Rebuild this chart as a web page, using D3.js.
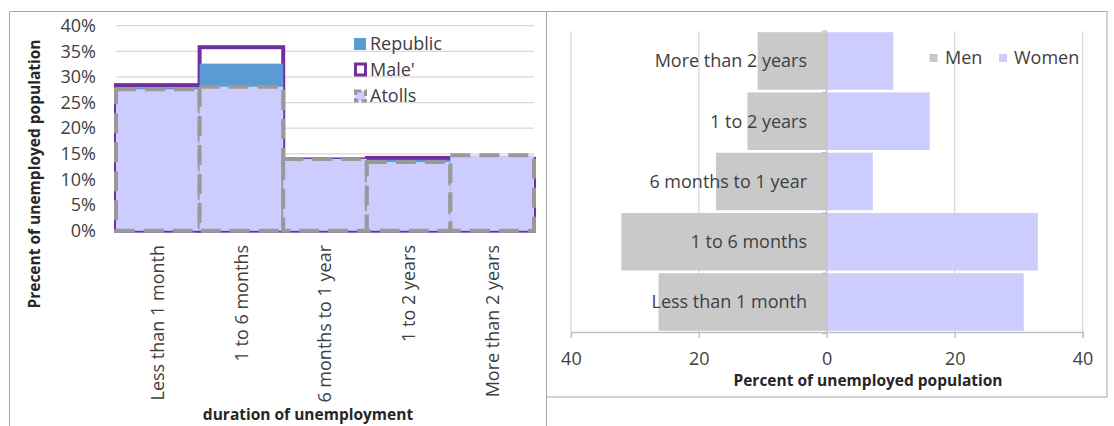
<!DOCTYPE html>
<html><head><meta charset="utf-8">
<script src="https://cdn.jsdelivr.net/npm/d3@7"></script>
<style>
body{margin:0;background:#fff;}
svg{display:block;font-family:'Open Sans', sans-serif;}
</style></head><body>
<svg id="c" width="1114" height="426"></svg>
<script>
// ---- Left chart data ----
const durations = ["Less than 1 month","1 to 6 months","6 months to 1 year","1 to 2 years","More than 2 years"];
const republic = [28.0, 32.6, 14.0, 13.8, 14.4];
const maleCity = [28.4, 35.8, 13.9, 14.2, 14.0];
const atolls   = [27.6, 28.1, 14.0, 13.4, 14.7];
const yTicksLeft = [0,5,10,15,20,25,30,35,40];
const leftSeries = ["Republic","Male'","Atolls"];

// ---- Right chart data (bottom to top) ----
const pyramidCats = ["Less than 1 month","1 to 6 months","6 months to 1 year","1 to 2 years","More than 2 years"];
const men   = [26.3, 32.1, 17.3, 12.4, 10.8];
const women = [30.8, 33.0, 7.2, 16.1, 10.4];
const xTicksRight = [-40,-20,0,20,40];
const rightSeries = ["Men","Women"];

const svg = d3.select("#c");
const txt = "#404040";
const FS = 18;
const TFS = 15.5;

// panel borders
svg.append("path").attr("d","M9.5,440V11.5H546.5V440").attr("fill","none").attr("stroke","#A6A6A6");
svg.append("rect").attr("x",546.5).attr("y",11.5).attr("width",560.5).attr("height",385.5).attr("fill","none").attr("stroke","#A6A6A6");

// ================= LEFT =================
const x = d3.scaleBand().domain(durations).range([116,534]).padding(0);
const y = d3.scaleLinear().domain([0,40]).range([230.7,25.7]);
const L = svg.append("g");

L.append("g").selectAll("line").data(yTicksLeft).join("line")
  .attr("x1",116).attr("x2",534).attr("y1",d=>y(d)).attr("y2",d=>y(d))
  .attr("stroke","#D9D9D9").attr("stroke-width",1.3);

const yAx = L.append("g").attr("transform","translate(116,0)")
  .call(d3.axisLeft(y).tickValues(yTicksLeft).tickFormat(d=>d+"%").tickSize(0).tickPadding(20));
yAx.attr("font-family",null).attr("font-size",null);
yAx.select(".domain").remove();
yAx.selectAll("text").attr("font-size",FS).attr("fill",txt);

const xAx = L.append("g").attr("transform","translate(0,245)")
  .call(d3.axisBottom(x).tickSize(0).tickPadding(0));
xAx.attr("font-family",null).attr("font-size",null);
xAx.select(".domain").remove();
xAx.selectAll("text").attr("font-size",FS).attr("fill",txt)
  .attr("transform","rotate(-90)").attr("text-anchor","end").attr("x",0).attr("y",0).attr("dy","0.35em");

// Male' (behind)
L.append("g").selectAll("rect").data(maleCity).join("rect")
  .attr("x",(d,i)=>x(durations[i])).attr("width",x.bandwidth())
  .attr("y",d=>y(d)).attr("height",d=>y(0)-y(d))
  .attr("fill","#fff").attr("stroke","#7030A0").attr("stroke-width",4);
// Republic
L.append("g").selectAll("rect").data(republic).join("rect")
  .attr("x",(d,i)=>x(durations[i])).attr("width",x.bandwidth())
  .attr("y",d=>y(d)).attr("height",d=>y(0)-y(d))
  .attr("fill","#5B9BD5");
// Atolls
L.append("g").selectAll("rect").data(atolls).join("rect")
  .attr("x",(d,i)=>x(durations[i])).attr("width",x.bandwidth())
  .attr("y",d=>y(d)).attr("height",d=>y(0)-y(d))
  .attr("fill","#CCCCFF").attr("stroke","#999999").attr("stroke-width",4)
  .attr("stroke-dasharray","20,9");

// legend left
const lg = L.append("g");
const lgY = [44,70,96];
lg.append("rect").attr("x",354).attr("y",lgY[0]-6).attr("width",12).attr("height",12).attr("fill","#5B9BD5");
lg.append("rect").attr("x",355.5).attr("y",lgY[1]-6).attr("width",10).attr("height",11).attr("fill","#fff").attr("stroke","#7030A0").attr("stroke-width",3);
lg.append("rect").attr("x",355.5).attr("y",lgY[2]-5).attr("width",10).attr("height",10).attr("fill","#CCCCFF").attr("stroke","#999").attr("stroke-width",3).attr("stroke-dasharray","6,3");
lg.selectAll("text").data(leftSeries).join("text")
  .attr("x",370).attr("y",(d,i)=>lgY[i]).attr("dy","0.35em")
  .attr("font-size",FS).attr("fill",txt).text(d=>d);

// titles
L.append("text").attr("transform","translate(35,174) rotate(-90)").attr("text-anchor","middle").attr("dy","0.35em")
  .attr("font-size",TFS).attr("font-weight","bold").attr("fill","#262626").text("Precent of unemployed population");
L.append("text").attr("x",308).attr("y",415).attr("text-anchor","middle").attr("dy","0.35em")
  .attr("font-size",TFS).attr("font-weight","bold").attr("fill","#262626").text("duration of unemployment");

// ================= RIGHT =================
const xR = d3.scaleLinear().domain([-40,40]).range([570.9,1082.6]);
const yR = d3.scaleBand().domain(pyramidCats.slice().reverse()).range([31,332]).paddingInner(0.045).paddingOuter(0.02);
const R = svg.append("g");

R.append("g").selectAll("line").data(xTicksRight.filter(d=>d!==0)).join("line")
  .attr("x1",d=>xR(d)).attr("x2",d=>xR(d)).attr("y1",31).attr("y2",332)
  .attr("stroke","#D9D9D9").attr("stroke-width",1.3);

R.append("g").selectAll("rect").data(men).join("rect")
  .attr("x",d=>xR(-d)).attr("width",d=>xR(0)-xR(-d))
  .attr("y",(d,i)=>yR(pyramidCats[i])).attr("height",yR.bandwidth())
  .attr("fill","#C9C9C9");
R.append("g").selectAll("rect").data(women).join("rect")
  .attr("x",xR(0)).attr("width",d=>xR(d)-xR(0))
  .attr("y",(d,i)=>yR(pyramidCats[i])).attr("height",yR.bandwidth())
  .attr("fill","#CCCCFF");

// zero (category) axis
R.append("line").attr("x1",xR(0)).attr("x2",xR(0)).attr("y1",31).attr("y2",332).attr("stroke","#BFBFBF").attr("stroke-width",1.3);
const bounds = [31].concat(pyramidCats.slice().reverse().map(c=>yR(c)+yR.step()));
R.append("g").selectAll("line").data(bounds).join("line")
  .attr("x1",xR(0)-5).attr("x2",xR(0)).attr("y1",d=>d).attr("y2",d=>d).attr("stroke","#BFBFBF").attr("stroke-width",1.3);

R.append("g").selectAll("text").data(pyramidCats).join("text")
  .attr("x",807).attr("y",d=>yR(d)+yR.bandwidth()/2).attr("dy","0.35em").attr("text-anchor","end")
  .attr("font-size",FS).attr("fill",txt).text(d=>d);

const xAxR = R.append("g").attr("transform","translate(0,332)")
  .call(d3.axisBottom(xR).tickValues(xTicksRight).tickFormat(d=>Math.abs(d)).tickSize(6));
xAxR.attr("font-family",null).attr("font-size",null);
xAxR.selectAll("path,line").attr("stroke","#BFBFBF").attr("stroke-width",1.3);
xAxR.selectAll("text").attr("font-size",FS).attr("fill",txt).attr("y",27).attr("dy","0.35em");

R.append("text").attr("x",868).attr("y",381).attr("text-anchor","middle").attr("dy","0.35em")
  .attr("font-size",TFS).attr("font-weight","bold").attr("fill","#262626").text("Percent of unemployed population");

// legend right
const rl = [{x:929.5, tx:945},{x:999, tx:1014}];
const rColors = ["#C9C9C9","#CCCCFF"];
R.append("g").selectAll("rect").data(rightSeries).join("rect")
  .attr("x",(d,i)=>rl[i].x).attr("y",54).attr("width",8).attr("height",8).attr("fill",(d,i)=>rColors[i]);
R.append("g").selectAll("text").data(rightSeries).join("text")
  .attr("x",(d,i)=>rl[i].tx).attr("y",58).attr("dy","0.35em")
  .attr("font-size",FS).attr("fill",txt).text(d=>d);
</script>
</body></html>
